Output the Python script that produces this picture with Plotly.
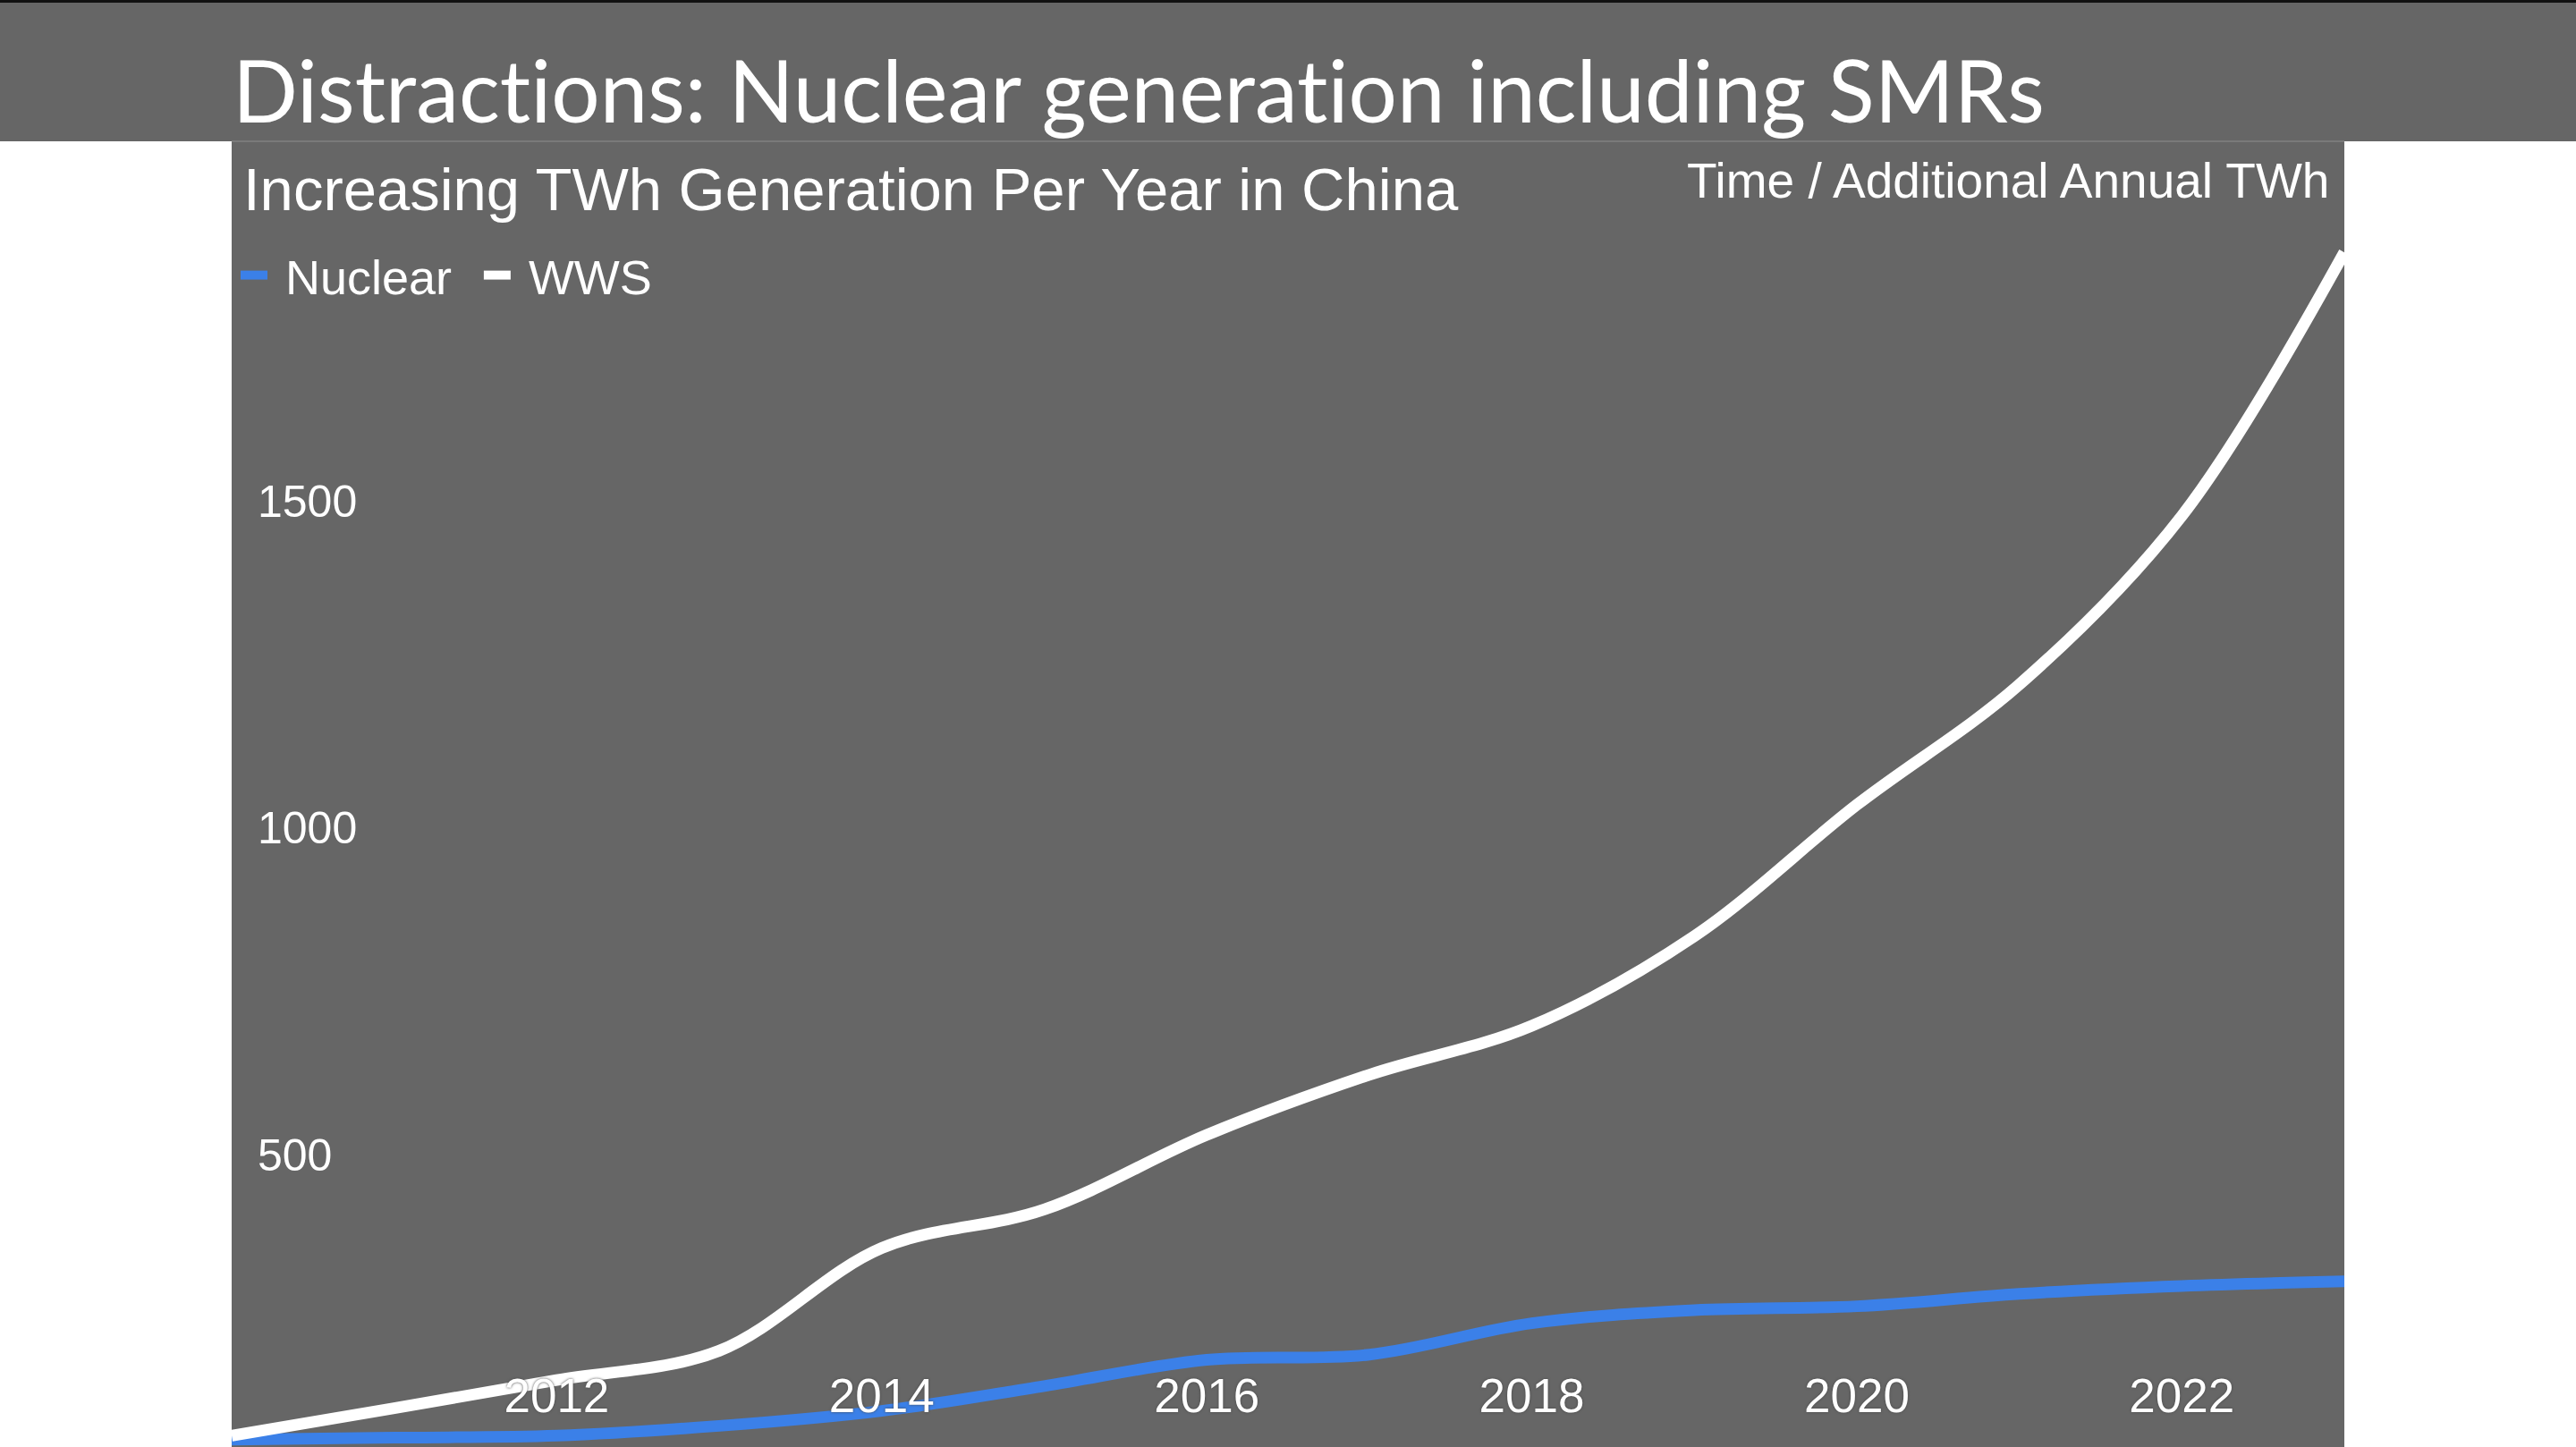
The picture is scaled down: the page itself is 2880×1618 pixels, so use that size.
import plotly.graph_objects as go

# ---- data ----
years = [2010, 2011, 2012, 2013, 2014, 2015, 2016, 2017, 2018, 2019, 2020, 2021, 2022, 2023]
nuclear = [64, 67, 70, 85, 108, 146, 186, 194, 242, 262, 268, 287, 299, 306]
wws = [70, 112, 155, 200, 357, 416, 530, 622, 697, 834, 1035, 1219, 1477, 1880]
x_ticks = [2012, 2014, 2016, 2018, 2020, 2022]
y_ticks = [500, 1000, 1500]
series_names = ["Nuclear", "WWS"]

W, H = 2880, 1618
L, R, T, B = 259, 259, 158, 0
PW, PH = W - L - R, H - T - B
GREY = "#666666"
BLUE = "#3b80e8"
NB = "\u00a0"


def px(x):
    return (x - L) / PW


def py(y):
    return 1 - (y - T) / PH


fig = go.Figure()
fig.add_trace(go.Scatter(x=years, y=nuclear, name=NB + series_names[0] + NB + "\u2009", mode="lines",
                         line=dict(color=BLUE, width=13, shape="spline", smoothing=1.0)))
fig.add_trace(go.Scatter(x=years, y=wws, name=NB + series_names[1], mode="lines",
                         line=dict(color="white", width=13, shape="spline", smoothing=1.0)))

ARIAL = "Liberation Sans, Arial, sans-serif"

fig.update_layout(
    width=W, height=H,
    margin=dict(l=L, r=R, t=T, b=B, pad=0),
    paper_bgcolor="white",
    plot_bgcolor=GREY,
    showlegend=True,
    legend=dict(orientation="h", x=px(264), y=py(308), xanchor="left", yanchor="middle",
                font=dict(family=ARIAL, size=54, color="white"),
                bgcolor="rgba(0,0,0,0)", itemwidth=30, traceorder="normal"),
    xaxis=dict(range=[2010, 2023], tickvals=x_ticks, ticktext=[str(v) for v in x_ticks],
               ticklabelposition="inside", ticks="", showgrid=False, zeroline=False,
               showline=False, ticklabelstandoff=25, fixedrange=True,
               tickfont=dict(family=ARIAL, size=53, color="white",
                             shadow="0px 0px 3px rgb(70,70,70)")),
    yaxis=dict(range=[52.7, 2050], tickvals=y_ticks, ticktext=[str(v) for v in y_ticks],
               ticklabelposition="inside", ticks="", showgrid=False, zeroline=False,
               showline=False, ticklabelstandoff=26, fixedrange=True,
               tickfont=dict(family=ARIAL, size=50, color="white")),
    shapes=[
        dict(type="rect", xref="paper", yref="paper", x0=px(0), x1=px(W), y0=1, y1=py(0),
             fillcolor=GREY, line=dict(width=0), layer="below"),
        dict(type="rect", xref="paper", yref="paper", x0=px(0), x1=px(W), y0=py(3), y1=py(0),
             fillcolor="#111111", line=dict(width=0)),
        dict(type="line", xref="paper", yref="paper", x0=0, x1=1, y0=1, y1=1,
             line=dict(color="#7a7a7a", width=2)),
    ],
    annotations=[
        dict(text="<span style='font-variant-ligatures:none;font-feature-settings:\"liga\" 0'>"
                  "Distractions: Nuclear generation including SMRs</span>",
             xref="paper", yref="paper",
             x=px(258), y=py(100), xanchor="left", yanchor="middle", showarrow=False,
             font=dict(family="Lato", size=96, color="white")),
        dict(text="Increasing TWh Generation Per Year in China", xref="paper", yref="paper",
             x=px(270), y=py(211), xanchor="left", yanchor="middle", showarrow=False,
             font=dict(family=ARIAL, size=67, color="white")),
        dict(text="Time / Additional Annual TWh", xref="paper", yref="paper",
             x=px(2606), y=py(202), xanchor="right", yanchor="middle", showarrow=False,
             font=dict(family=ARIAL, size=55, color="white")),
    ],
)

fig.write_html("out.html", config={"displayModeBar": False},
               post_script="document.body.style.margin='0px';document.body.style.overflow='hidden';")
